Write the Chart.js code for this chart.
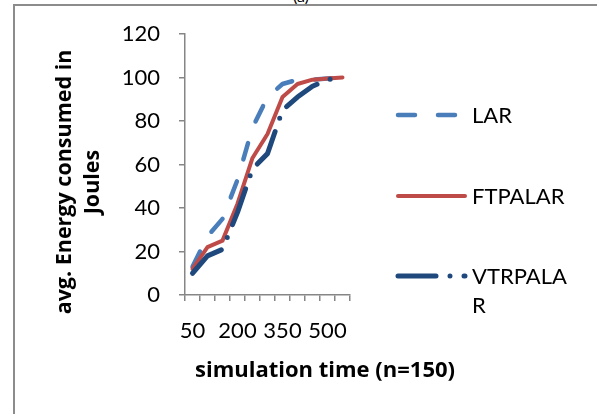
<!DOCTYPE html>
<html>
<head>
<meta charset="utf-8">
<script src="https://cdn.jsdelivr.net/npm/chart.js@4/dist/chart.umd.min.js"></script>
<style>
  html, body { margin: 0; padding: 0; background: #fff; overflow: hidden; }
  #frame { position: absolute; left: 13px; top: 4px; width: 700px; height: 500px;
           border-top: 2px solid #8c8c8c; border-left: 2px solid #8c8c8c; }
  #cap { position: absolute; left: 293px; top: -14px; font: 16px Lato, sans-serif; color: #000; }
  #wrap { position: absolute; left: 0; top: 0; width: 597px; height: 414px; }
</style>
</head>
<body>
<div id="frame"></div>
<div id="cap">(a)</div>
<div id="wrap"><canvas id="energyChart" width="597" height="414"></canvas></div>
<script>
// simulation time categories
const categories = ['50', '100', '150', '200', '250', '300', '350', '400', '450', '500', '550'];
const larValues = [13, 27, 35, 53, 77, 91, 97, 99, 99, 99.5, 100];
const ftpalarValues = [12, 22, 25, 42, 63, 74, 91, 97, 99, 99.5, 100];
const vtrpalarValues = [10, 18, 21, 38, 58, 65, 85, 91, 96, 99, 100];
const yTicks = [0, 20, 40, 60, 80, 100, 120];

const FONT = 'Lato, "Open Sans", sans-serif';
const TITLE_FONT = '"Open Sans", Lato, sans-serif';

// legend + axis titles drawn by hand (legend text wraps like the original)
const extrasPlugin = {
    id: 'extras',
    afterDraw(chart) {
        const ctx = chart.ctx;
        ctx.save();
        // axis titles
        ctx.fillStyle = '#000';
        ctx.font = 'bold 22px ' + TITLE_FONT;
        ctx.textAlign = 'center';
        ctx.textBaseline = 'middle';
        ctx.fillText('simulation time (n=150)', 325, 371);
        ctx.save();
        ctx.font = 'bold 21.5px ' + TITLE_FONT;
        ctx.translate(65, 182);
        ctx.rotate(-Math.PI / 2);
        ctx.fillText('avg. Energy consumed in', 0, 0);
        ctx.fillText('Joules', 0, 28);
        ctx.restore();

        // legend
        const rows = [
            { y: 115, lines: ['LAR'] },
            { y: 196, lines: ['FTPALAR'] },
            { y: 276, lines: ['VTRPALA', 'R'] }
        ];
        chart.data.datasets.forEach(function (ds, i) {
            const r = rows[i];
            ctx.beginPath();
            ctx.lineWidth = ds.borderWidth;
            ctx.strokeStyle = ds.borderColor;
            ctx.lineCap = 'round';
            ctx.setLineDash(ds.borderDash || []);
            ctx.moveTo(398, r.y);
            ctx.lineTo(465, r.y);
            ctx.stroke();
            ctx.setLineDash([]);
            ctx.fillStyle = '#000';
            ctx.font = '22px ' + FONT;
            ctx.textAlign = 'left';
            ctx.textBaseline = 'middle';
            r.lines.forEach(function (t, j) {
                ctx.fillText(t, 472, r.y + 1 + j * 29);
            });
        });
        ctx.restore();
    }
};

const ctx = document.getElementById('energyChart').getContext('2d');
const energyChart = new Chart(ctx, {
    type: 'line',
    data: {
        labels: categories,
        datasets: [{
            label: 'LAR',
            data: larValues,
            borderColor: '#4a7ebb',
            borderWidth: 4.5,
            borderDash: [17, 23],
            borderCapStyle: 'round',
            order: 3
        }, {
            label: 'FTPALAR',
            data: ftpalarValues,
            borderColor: '#be4b48',
            borderWidth: 4,
            borderCapStyle: 'round',
            order: 2
        }, {
            label: 'VTRPALAR',
            data: vtrpalarValues,
            borderColor: '#1f497d',
            borderWidth: 5,
            borderDash: [38, 14, 0, 14],
            borderCapStyle: 'round',
            order: 1
        }]
    },
    options: {
        responsive: false,
        animation: false,
        events: [],
        elements: { point: { radius: 0 }, line: { tension: 0, borderJoinStyle: 'round' } },
        layout: { padding: { left: 0, top: 34, right: 247, bottom: 0 } },
        plugins: {
            legend: { display: false },
            tooltip: { enabled: false }
        },
        scales: {
            x: {
                offset: true,
                afterFit: function (scale) { scale.height = 119; },
                grid: { display: true, drawOnChartArea: false, offset: true, tickLength: 6, color: '#868686', lineWidth: 1.5 },
                border: { display: true, color: '#868686', width: 1.5 },
                ticks: {
                    autoSkip: false,
                    maxRotation: 0,
                    padding: 17,
                    color: '#000',
                    font: { family: FONT, size: 22 },
                    callback: function (val, i) { return i % 3 === 0 ? categories[i] : ''; }
                }
            },
            y: {
                min: 0,
                max: 120,
                afterFit: function (scale) { scale.width = 185; },
                afterBuildTicks: function (scale) { scale.ticks = yTicks.map(v => ({ value: v })); },
                grid: { display: true, drawOnChartArea: false, tickLength: 6, color: '#868686', lineWidth: 1.5 },
                border: { display: true, color: '#868686', width: 1.5 },
                ticks: {
                    padding: 19,
                    color: '#000',
                    font: { family: FONT, size: 22 }
                }
            }
        }
    },
    plugins: [extrasPlugin]
});
</script>
</body>
</html>
